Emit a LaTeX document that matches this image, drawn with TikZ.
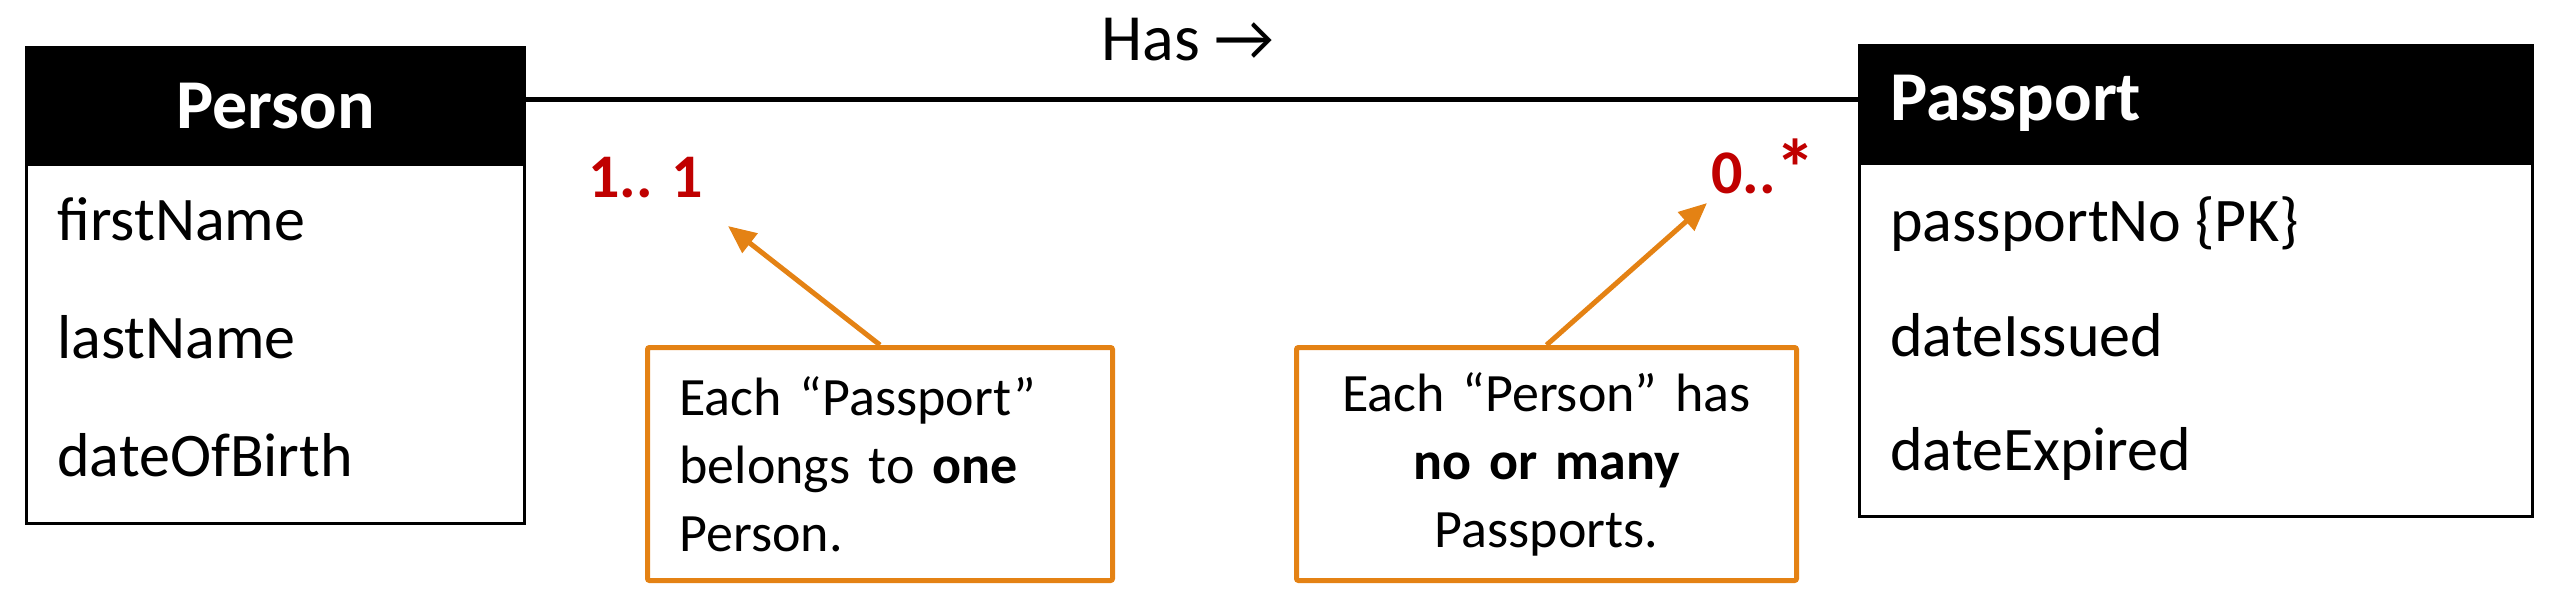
\documentclass[tikz,border=0pt]{standalone}
\usepackage{fontspec}
\usepackage{graphicx}
\setmainfont{Carlito}
\usetikzlibrary{arrows.meta,calc}
\definecolor{mred}{RGB}{192,0,0}
\definecolor{morange}{RGB}{228,130,20}
\begin{document}
\begin{tikzpicture}[x=0.5pt,y=-0.5pt,
  hdr/.style={draw=black,fill=black,line width=1.5pt,anchor=north west,inner sep=0pt},
  body/.style={draw=black,line width=1.5pt,anchor=north west,inner sep=0pt},
  ttl/.style={text=white,font=\fontsize{35}{42}\selectfont\bfseries,inner sep=0pt},
  attr/.style={anchor=base west,inner sep=0pt,font=\fontsize{31}{37}\selectfont},
  mult/.style={anchor=base west,inner sep=0pt,text=mred,font=\fontsize{31}{37}\selectfont\bfseries},
  callout/.style={draw=morange,line width=2.5pt,rounded corners=1pt,anchor=north west,inner ysep=0pt,minimum height=116.5pt,font=\fontsize{27}{34}\selectfont},
  pointer/.style={draw=morange,line width=2.5pt,-{Triangle[length=14pt,width=12pt]}},
  conn/.style={line width=2.5pt}]
\useasboundingbox (0,0) rectangle (2553,612);
% Person
\node[hdr,minimum width=249pt,minimum height=58.5pt] (ph) at (25,46) {};
\node[body,minimum width=249pt,minimum height=179.5pt] (pb) at (25,163) {};
\node[ttl] (pt) at (ph.center) {Person};
\node[attr] (a1) at (57,240) {firstName};
\node[attr] (a2) at (57,358) {lastName};
\node[attr] (a3) at (57,476) {dateOfBirth};
% Passport
\node[hdr,minimum width=336.5pt,minimum height=59pt] (qh) at (1858,44) {};
\node[body,minimum width=336.5pt,minimum height=176.5pt] (qb) at (1858,162) {};
\node[ttl,anchor=west] (qt) at (1890,103) {Passport};
\node[attr] (b1) at (1890,241) {passportNo \{PK\}};
\node[attr] (b2) at (1890,356) {dateIssued};
\node[attr] (b3) at (1890,470) {dateExpired};
% association
\coordinate (ly) at (0,99);
\draw[conn] (ph.east |- ly) -- (qh.west |- ly);
\node[anchor=base,inner sep=0pt,font=\fontsize{33}{40}\selectfont] (has) at (1188,60) {Has →};
\node[mult] (m1) at (588,197) {1.. 1};
\node[mult] (m2) at (1711,193) {0..\raisebox{-1.5pt}{\scalebox{1.3}{*}}};
% callouts
\node[callout,inner xsep=16pt,text width=200.5pt,align=left] (c1) at (645,345) {Each “Passport”\\ belongs to \textbf{one}\\ Person.};
\node[callout,inner xsep=8pt,text width=234pt,align=center] (c2) at (1294,345) {Each “Person” has\\ \textbf{no or many}\\ Passports.};
\coordinate (t1) at (728,226);
\coordinate (t2) at (1707,203);
\draw[pointer] (c1.north) -- (t1);
\draw[pointer] (c2.north) -- (t2);
\end{tikzpicture}
\end{document}
